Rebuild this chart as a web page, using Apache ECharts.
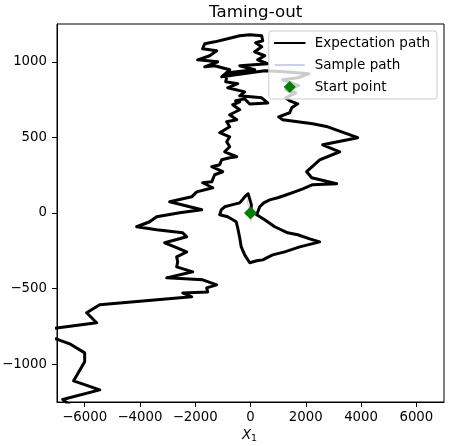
<!DOCTYPE html>
<html>
<head>
<meta charset="utf-8">
<script src="https://cdn.jsdelivr.net/npm/echarts@6/dist/echarts.min.js"></script>
<style>
  html, body { margin: 0; padding: 0; background: #ffffff; }
  #chart { width: 451px; height: 446px; }
</style>
</head>
<body>
<div id="chart"></div>
<script>
// Expectation path in data units, in drawing order.
// It starts at the origin, makes a loop below it, climbs the right side,
// scribbles around the top, then drifts down the left side and off the frame.
const startLoop = [
  [0, 0], [33, 54], [-83, 127], [-174, 114], [-391, 67], [-680, 54], [-933, 41],
  [-1060, 21], [-1114, -12], [-825, -25], [-517, -58], [-463, -98], [-391, -164],
  [-336, -224], [-210, -277], [-29, -329], [224, -316], [441, -310], [803, -277],
  [1237, -257], [1780, -224], [2503, -191], [2142, -171], [1708, -144], [1346, -131],
  [876, -91], [514, -45], [224, -12]
];
const rightBranch = [
  [333, 41], [478, 67], [695, 87], [984, 101], [1201, 114], [1599, 140], [1889, 160],
  [2250, 187], [3119, 193], [2214, 233], [2033, 273], [2503, 352], [3227, 405],
  [2612, 451], [3879, 498], [2793, 570], [2250, 590], [1165, 617], [1020, 636],
  [1418, 663], [1491, 696], [1708, 722], [1418, 742], [1273, 762], [1635, 795],
  [1273, 815], [1744, 842], [1165, 881], [1708, 894], [2106, 921], [1237, 934], [514, 941]
];
const topCluster = [
  [-210, 922], [-1042, 901], [-753, 947], [-1295, 974], [-1657, 967], [-1186, 1000],
  [-1910, 1013], [-1476, 1040], [-1223, 1073], [-1730, 1086], [-1657, 1119],
  [-1295, 1132], [-680, 1159], [-391, 1172], [-29, 1179], [405, 1172], [441, 1139],
  [188, 1126], [405, 1099], [152, 1066], [514, 1040], [261, 1013], [622, 987],
  [-391, 974], [152, 947], [-825, 927], [-897, 868], [-463, 855], [-825, 828],
  [-210, 801], [-391, 775], [405, 762], [622, 728], [-29, 721], [-210, 755],
  [-536, 742], [-391, 735]
];
const leftBranch = [
  [-644, 716], [-391, 683], [-753, 650], [-499, 617], [-861, 603], [-753, 570],
  [-1114, 531], [-753, 504], [-861, 471], [-753, 438], [-933, 405], [-499, 372],
  [-753, 365], [-1042, 352], [-1114, 319], [-1404, 306], [-1006, 273], [-1295, 253],
  [-1404, 206], [-1730, 200], [-1367, 167], [-1946, 140], [-2127, 107], [-2923, 74],
  [-2200, 41], [-1766, 21], [-2562, 1], [-3394, -25], [-3647, -58], [-4118, -91],
  [-3394, -111], [-2453, -131], [-2308, -157], [-3104, -197], [-2742, -224],
  [-2308, -257], [-2670, -290], [-2634, -323], [-2670, -356], [-2091, -389],
  [-3032, -429], [-1730, -442], [-1223, -475], [-1585, -495], [-1549, -522],
  [-2453, -529], [-2127, -554], [-5456, -607], [-5927, -660], [-5565, -726],
  [-7012, -760], [-7900, -785]
];
const tailBranch = [
  [-7600, -815], [-7012, -834], [-6541, -865], [-5999, -925], [-5999, -984],
  [-6397, -1110], [-5456, -1170], [-6795, -1233], [-6541, -1269]
];
// the sample path only shows as a faint wisp right at the start
const samplePath = [[-100, 95], [-70, 85], [-110, 70], [-60, 40], [0, 0], [30, -40], [10, -60]];
const startPoint = [[0, 0]];

const xTicks = [-6000, -4000, -2000, 0, 2000, 4000, 6000];
const yTicks = [-1000, -500, 0, 500, 1000];

const expectationPath = [].concat(startLoop, rightBranch, topCluster, leftBranch, tailBranch);

const font = 'DejaVu Sans';
const fmt = (v) => (v < 0 ? '\u2212' : '') + Math.abs(v);

const chart = echarts.init(document.getElementById('chart'), null, { renderer: 'canvas' });
chart.setOption({
  animation: false,
  backgroundColor: '#ffffff',
  title: [
    {
      text: 'Taming-out',
      left: 204, top: -1,
      textStyle: { fontFamily: font, fontSize: 16.7, fontWeight: 'normal', color: '#000' }
    },
    {
      // x axis label, X with subscript 1
      text: '{a|X}{b|1}',
      left: 242, top: 428, padding: 0,
      textStyle: {
        fontWeight: 'normal',
        rich: {
          a: { fontFamily: font, fontSize: 13.3, fontStyle: 'italic', fontWeight: 'normal', color: '#000' },
          b: { fontFamily: font, fontSize: 9.5, fontWeight: 'normal', color: '#000', verticalAlign: 'bottom', padding: [6, 0, 0, 0] }
        }
      }
    }
  ],
  grid: {
    left: 57, right: 7, top: 24, bottom: 44,
    outerBoundsMode: 'none',
    show: true, borderColor: '#000', borderWidth: 1, backgroundColor: 'transparent'
  },
  legend: {
    orient: 'vertical',
    right: 14, top: 31,
    itemWidth: 30, itemHeight: 12, itemGap: 8,
    padding: [5, 7, 5, 5],
    backgroundColor: 'rgba(255,255,255,0.8)',
    borderColor: '#cccccc', borderWidth: 1, borderRadius: 3,
    symbolKeepAspect: true,
    textStyle: { fontFamily: font, fontSize: 13.5, color: '#000', padding: [0, 0, 0, 5] },
    data: [
      { name: 'Expectation path', itemStyle: { opacity: 0 } },
      { name: 'Sample path', itemStyle: { opacity: 0 } },
      { name: 'Start point', icon: 'path://M6,0L12,6L6,12L0,6Z' }
    ]
  },
  xAxis: {
    type: 'value', min: -7000, max: 7000,
    axisLine: { show: true, onZero: false, lineStyle: { color: '#000', width: 1 } },
    axisTick: { show: true, inside: false, length: 5, customValues: xTicks, lineStyle: { color: '#000' } },
    axisLabel: { show: true, customValues: xTicks, formatter: fmt, margin: 9, color: '#000', fontFamily: font, fontSize: 13.3 },
    splitLine: { show: false }
  },
  yAxis: {
    type: 'value', min: -1250, max: 1250,
    axisLine: { show: true, onZero: false, lineStyle: { color: '#000', width: 1 } },
    axisTick: { show: true, inside: false, length: 5, customValues: yTicks, lineStyle: { color: '#000' } },
    axisLabel: { customValues: yTicks, formatter: fmt, margin: 10, color: '#000', fontFamily: font, fontSize: 13.3 },
    splitLine: { show: false }
  },
  series: [
    {
      name: 'Expectation path', type: 'line', data: expectationPath,
      symbol: 'none', smooth: false, clip: true, z: 3,
      lineStyle: { color: '#000000', width: 3, join: 'round', cap: 'round' },
      itemStyle: { color: '#000000' }
    },
    {
      name: 'Sample path', type: 'line', data: samplePath,
      symbol: 'none', clip: true, z: 4,
      lineStyle: { color: 'rgba(0,0,255,0.2)', width: 1 },
      itemStyle: { color: 'rgba(0,0,255,0.2)' }
    },
    {
      name: 'Start point', type: 'scatter', data: startPoint,
      symbol: 'diamond', symbolSize: 13, z: 5,
      itemStyle: { color: '#008000', opacity: 1 }
    }
  ]
});
</script>
</body>
</html>
